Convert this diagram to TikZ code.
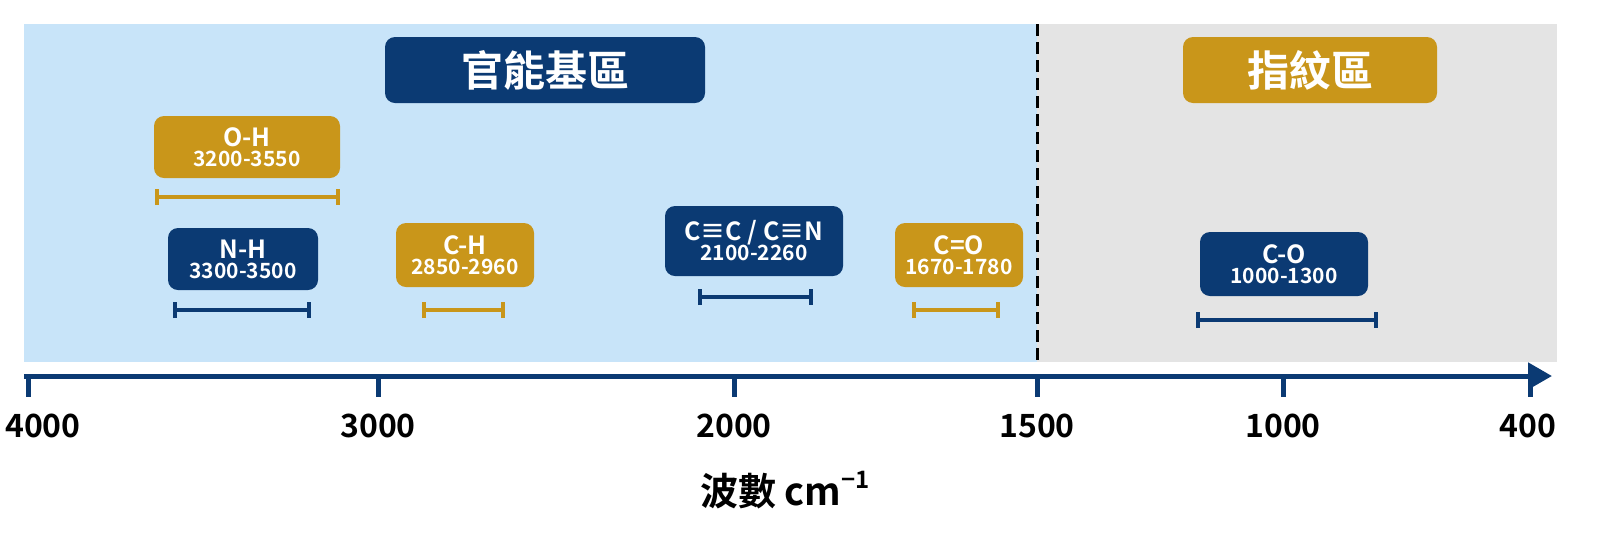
\documentclass[tikz,border=0pt]{standalone}
\usepackage{fontspec}
\setmainfont{Noto Sans CJK TC}[BoldFont={Noto Sans CJK TC Bold}]
\usetikzlibrary{arrows.meta}
\definecolor{navy}{HTML}{0B3A73}
\definecolor{gold}{HTML}{C9961A}
\definecolor{lblue}{HTML}{C8E4F9}
\definecolor{lgrey}{HTML}{E4E4E4}
\newcommand{\lab}[2]{{\fontsize{12.5}{13}\selectfont #1}\\[-2pt]{\fontsize{10.5}{12}\selectfont #2}}
\begin{document}
\begin{tikzpicture}[x=0.5pt,y=-0.5pt,
 box/.style={rounded corners=5pt,inner sep=0pt,text=white,font=\bfseries,align=center},
 lbl/.style={box},
 bar/.style={line width=2.2pt,{Bar[width=8pt]}-{Bar[width=8pt]}},
 tick/.style={font=\bfseries\fontsize{16}{18}\selectfont,text=black}]
\fill[lblue] (24,24) rectangle (1037,362);
\fill[lgrey] (1037,24) rectangle (1557,362);
\draw[line width=1.5pt,dash pattern=on 6pt off 3pt] (1037,24) -- (1037,362);
% titles
\node[box,fill=navy,minimum width=160pt,minimum height=33pt,font=\bfseries\fontsize{21}{22}\selectfont] (t1) at (545,70) {官能基區};
\node[box,fill=gold,minimum width=127pt,minimum height=33pt,font=\bfseries\fontsize{21}{22}\selectfont] (t2) at (1310,70) {指紋區};
% labels
\node[lbl,fill=gold,minimum width=93pt,minimum height=31pt] (oh) at (247,147) {\lab{O-H}{3200-3550}};
\draw[bar,gold] (155,197) -- (340,197);
\node[lbl,fill=navy,minimum width=75pt,minimum height=31pt] (nh) at (243,259) {\lab{N-H}{3300-3500}};
\draw[bar,navy] (173,310) -- (311,310);
\node[lbl,fill=gold,minimum width=69pt,minimum height=32pt] (ch) at (465,255) {\lab{C-H}{2850-2960}};
\draw[bar,gold] (422,310) -- (505,310);
\node[lbl,fill=navy,minimum width=89pt,minimum height=35pt] (cc) at (754,241) {\lab{C≡C / C≡N}{2100-2260}};
\draw[bar,navy] (698,297) -- (813,297);
\node[lbl,fill=gold,minimum width=64pt,minimum height=32pt] (co2) at (959,255) {\lab{C=O}{1670-1780}};
\draw[bar,gold] (912,310) -- (1000,310);
\node[lbl,fill=navy,minimum width=84pt,minimum height=32pt] (co) at (1284,264) {\lab{C-O}{1000-1300}};
\draw[bar,navy] (1196,320) -- (1378,320);
% axis
\coordinate (a0) at (24,376); \coordinate (a1) at (1552,376);
\draw[navy,line width=2.5pt,-{Triangle[length=12pt,width=13pt]}] (a0) -- (a1);
\foreach \x/\t/\lx in {28/4000/43,378/3000/378,734/2000/734,1037/1500/1037,1283/1000/1283,1530/400/1528}{
 \draw[navy,line width=2.5pt] (\x,376) -- (\x,397);
 \node[tick] (tk\t) at (\lx,426) {\t};}
\node[font=\bfseries\fontsize{19}{22}\selectfont] (ax) at (785,490) {波數 cm\raisebox{0.45em}{\fontsize{12}{12}\selectfont −1}};
\pgfresetboundingbox
\useasboundingbox (0,0) rectangle (1600,553);
\end{tikzpicture}
\end{document}
